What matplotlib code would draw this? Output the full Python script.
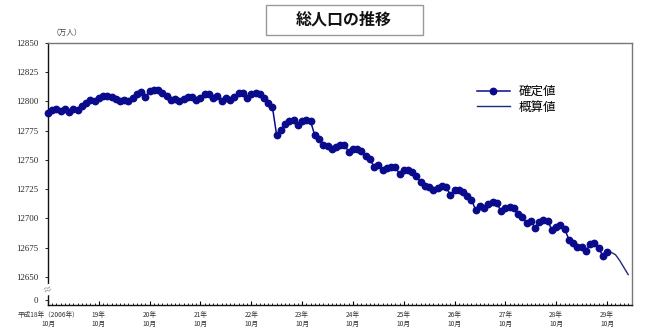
import matplotlib
matplotlib.use("Agg")
import matplotlib.pyplot as plt
import numpy as np

plt.rcParams['font.family'] = ['Noto Sans CJK JP', 'DejaVu Sans']

# ---- data (万人), monthly from 平成18年10月 ----
confirmed = [12790, 12793, 12794, 12792, 12794, 12791, 12794, 12793, 12796, 12799,
             12801, 12800, 12803, 12805, 12805, 12804, 12802, 12800, 12801, 12800,
             12803, 12806, 12808, 12804, 12809, 12810, 12810, 12807, 12805, 12801,
             12802, 12800, 12802, 12804, 12804, 12801, 12803, 12806, 12806, 12803,
             12805, 12800, 12803, 12801, 12804, 12807, 12807, 12803, 12806, 12807,
             12806, 12803, 12799, 12795, 12771, 12776, 12781, 12783, 12784, 12780,
             12783, 12784, 12783, 12771, 12768, 12763, 12762, 12759, 12761, 12763,
             12763, 12757, 12759, 12759, 12758, 12753, 12751, 12744, 12746, 12741,
             12743, 12744, 12744, 12738, 12741, 12741, 12740, 12736, 12731, 12728,
             12727, 12724, 12726, 12728, 12727, 12720, 12724, 12724, 12723, 12719,
             12716, 12707, 12711, 12709, 12712, 12714, 12713, 12706, 12709, 12710,
             12709, 12704, 12701, 12696, 12698, 12692, 12697, 12699, 12698, 12690,
             12693, 12694, 12691, 12682, 12679, 12676, 12676, 12672, 12678, 12679,
             12675, 12668, 12671]
estimate = [12671, 12671, 12669, 12664, 12658, 12652]   # 29年10月 -> 30年3月
year_labels = ['平成18年（2006年）\n10月', '19年\n10月', '20年\n10月', '21年\n10月',
               '22年\n10月', '23年\n10月', '24年\n10月', '25年\n10月', '26年\n10月',
               '27年\n10月', '28年\n10月', '29年\n10月']
ytick_values = [12650, 12675, 12700, 12725, 12750, 12775, 12800, 12825, 12850]
legend_labels = ['確定値', '概算値']

# ---- figure ----
fig = plt.figure(figsize=(6.58, 3.35), dpi=100)
ax = fig.add_axes([48/658, 1-305/335, (632-48)/658, (305-43)/335])

x_conf = np.arange(len(confirmed))
x_est = np.arange(len(confirmed)-1, len(confirmed)-1+len(estimate))

navy = '#0a0a8c'
ax.plot(x_conf, confirmed, color=navy, lw=1.1, marker='o', ms=4.6,
        mec=navy, mfc=navy, label=legend_labels[0], zorder=3, clip_on=False)
ax.plot(x_est, estimate, color='#1c2a78', lw=1.0, label=legend_labels[1], zorder=2)

ax.set_xlim(0, 137.9)
ymin = 12626
ax.set_ylim(ymin, 12850)

# y ticks with break: "0" at the bottom
zero_pos = 12630.3
ax.set_yticks([zero_pos] + ytick_values)
ax.set_yticklabels(['0'] + [str(v) for v in ytick_values],
                   fontfamily='Liberation Serif', fontsize=6.3, color='#222222')
ax.tick_params(axis='y', direction='out', length=2, width=0.6, pad=5)

# x ticks
ax.set_xticks(np.arange(0, 133, 12))
ax.set_xticks(np.arange(0, 138, 1), minor=True)
ax.set_xticklabels(year_labels, fontsize=4.8, color='#333333', linespacing=1.25)
ax.tick_params(axis='x', which='major', direction='in', length=3, width=0.8, pad=4)
ax.tick_params(axis='x', which='minor', direction='in', length=1.8, width=0.6)

for s in ['left', 'bottom']:
    ax.spines[s].set_color('#111111')
    ax.spines[s].set_linewidth(1.0)
for s in ['top', 'right']:
    ax.spines[s].set_color('#777777')
    ax.spines[s].set_linewidth(1.0)

# axis break mark
ax.text(0, 12639, '≈', transform=ax.get_yaxis_transform(), ha='center', va='center',
        fontsize=7, color='#888888', rotation=20,
        bbox=dict(facecolor='white', edgecolor='none', pad=0.2), zorder=5, clip_on=False)

# unit label
fig.text(52/658, 1-33/335, '（万人）', fontsize=5.5, color='#444444', ha='left', va='center')

# title box
fig.text(344/658, 1-20/335, '総人口の推移', fontsize=11.5, fontweight='bold', ha='center',
         va='center', color='#111111')
fig.patches.append(plt.Rectangle((266/658, 1-35/335), (423-266)/658, 30/335,
                                 transform=fig.transFigure, fill=False,
                                 edgecolor='#999999', lw=1.0))

ax.legend(loc='upper left', bbox_to_anchor=((477-48)/584, (305-85)/262), frameon=False,
          fontsize=9, handlelength=2.6, handletextpad=0.7, labelspacing=0.2,
          borderaxespad=0, borderpad=0)

fig.savefig('out.png', dpi=100)
